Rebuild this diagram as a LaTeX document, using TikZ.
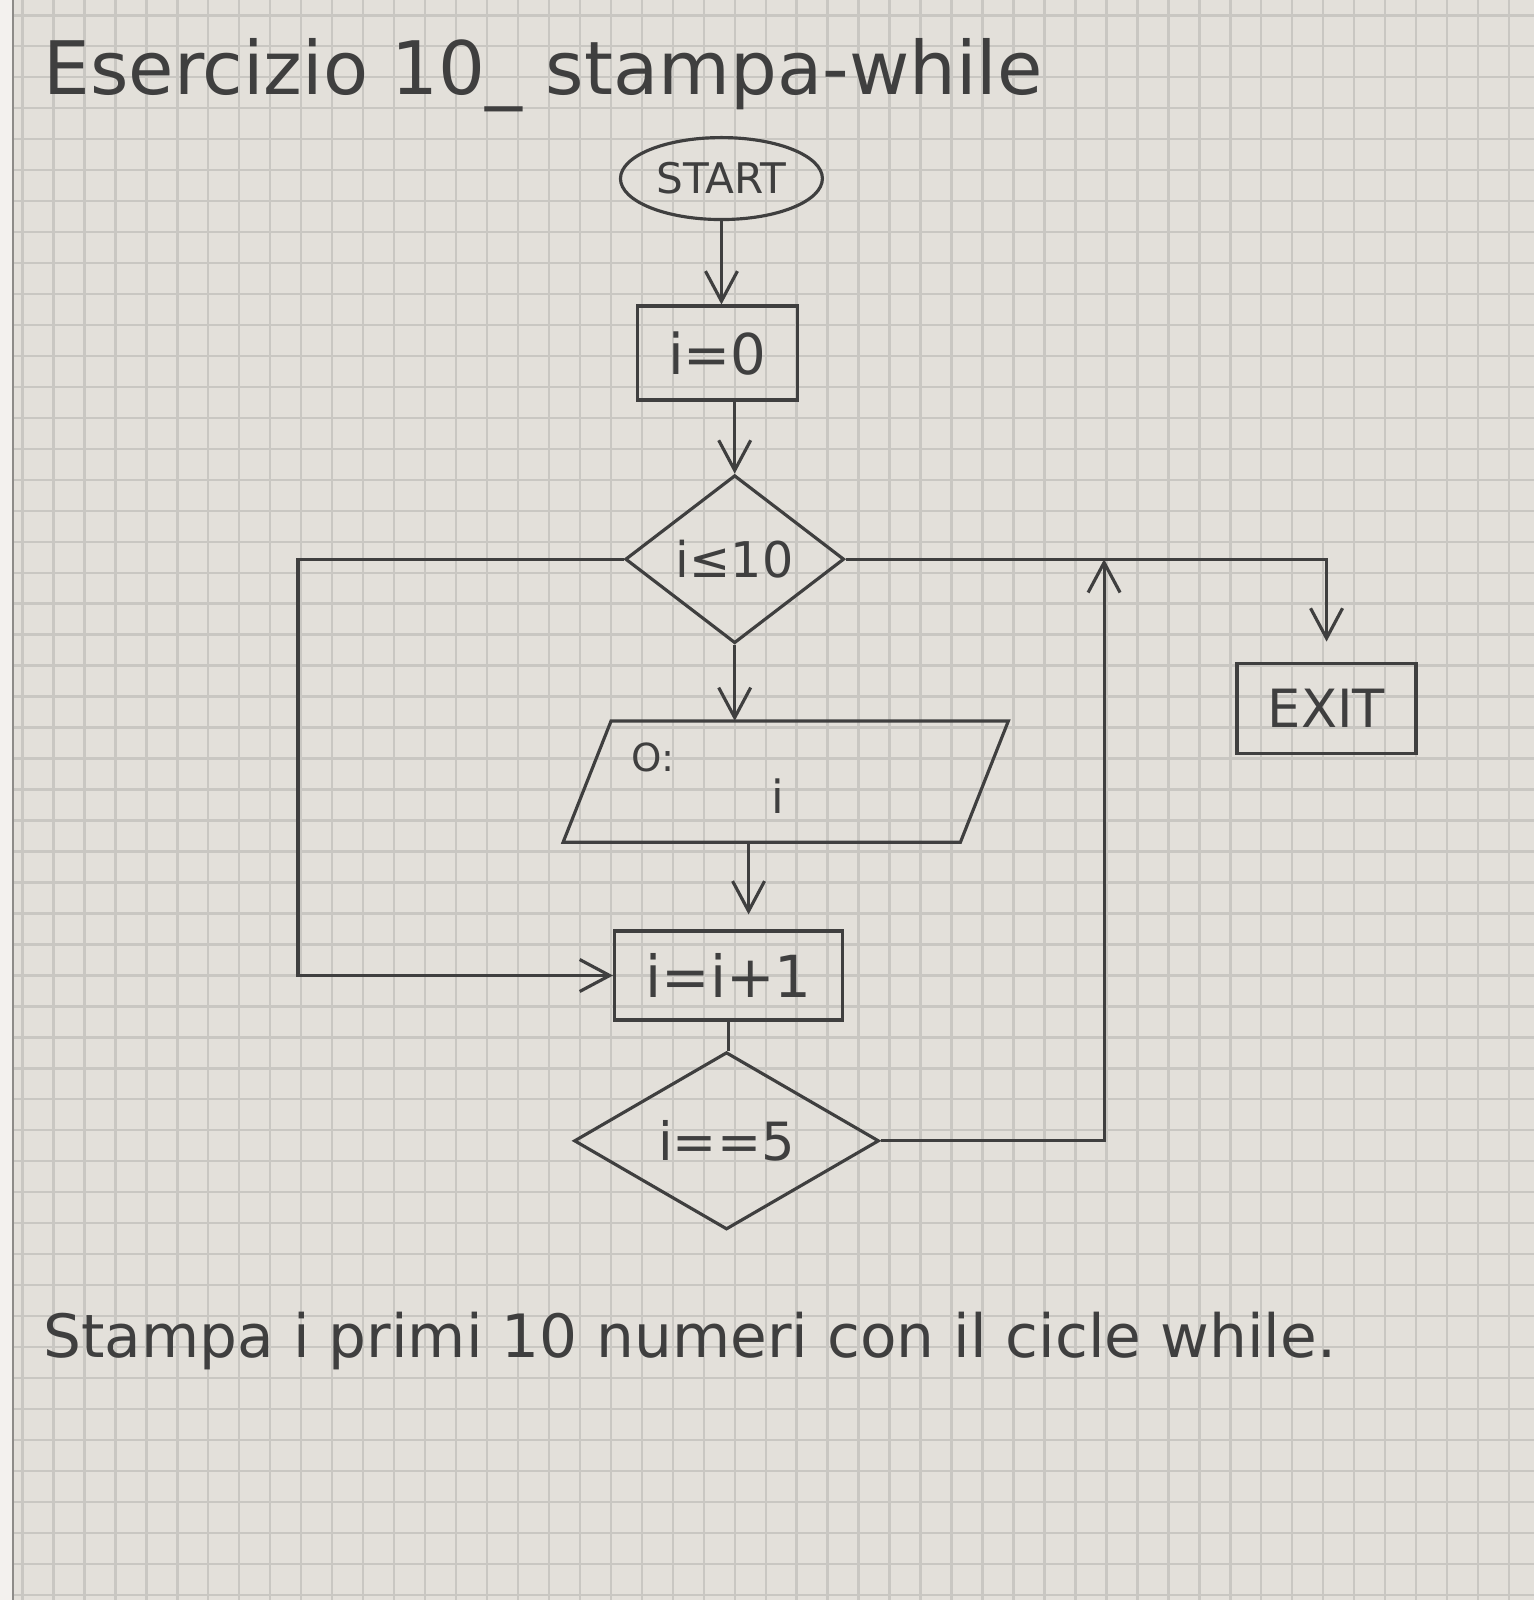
\documentclass[tikz,border=0pt]{standalone}
\usepackage{fontspec}
\setmainfont{DejaVu Sans}
\usetikzlibrary{shapes.geometric,arrows.meta}
\definecolor{paper}{HTML}{E3E0DA}
\definecolor{gridline}{HTML}{C9C7C2}
\definecolor{ink}{HTML}{3F3F3F}

\begin{document}
\begin{tikzpicture}[x=0.10206mm, y=-0.10206mm, >={Straight Barb[length=3mm,width=3.2mm]},
  block/.style={draw=ink, line width=0.9pt, text=ink, inner sep=0pt},
  terminal/.style={block, ellipse},
  process/.style={block, rectangle},
  decision/.style={block, diamond},
  io/.style={rectangle, inner sep=0pt},
  flow/.style={draw=ink, line width=0.9pt},
  note/.style={text=ink, inner sep=0pt, anchor=base west}]
  \useasboundingbox (0,0) rectangle (1503,1568);
  \fill[paper] (0,0) rectangle (1503,1568);
  \foreach \i in {0,...,49} \draw[gridline, line width=0.7pt] ({22+30.35*\i},0) -- ({22+30.35*\i},1568);
  \foreach \j in {0,...,51} \draw[gridline, line width=0.7pt] (0,{15+30.35*\j}) -- (1503,{15+30.35*\j});
  \fill[white!55!paper] (0,0) rectangle (13,1568);
  \draw[gridline!70!black, line width=0.5pt] (13,0) -- (13,1568);

  \node[note, font=\fontsize{21}{25}\selectfont] (title) at (42,93) {Esercizio 10\_ stampa-while};
  \node[terminal, minimum width=20.2mm, minimum height=8.2mm, font=\fontsize{12}{14}\selectfont] (start) at (707,175) {START};
  \node[process, minimum width=16mm, minimum height=9.4mm, font=\fontsize{16}{19}\selectfont] (init) at (703,346) {i=0};
  \node[decision, minimum width=21.9mm, minimum height=16.8mm, font=\fontsize{14}{17}\selectfont] (cond) at (720,548) {i≤10};
  \node[io, minimum width=44.4mm, minimum height=12mm] (out) at (770,766) {};
  \draw[flow] ([xshift=4.8mm]out.north west) -- (out.north east) -- ([xshift=-4.8mm]out.south east) -- (out.south west) -- cycle;
  \node[text=ink, font=\fontsize{11}{13}\selectfont] (outsym) at (640,742) {O:};
  \node[text=ink, font=\fontsize{13}{15}\selectfont] (outvar) at (762,780) {i};
  \node[process, minimum width=22.8mm, minimum height=8.9mm, font=\fontsize{16.5}{19}\selectfont] (inc) at (714,956) {i=i+1};
  \node[decision, minimum width=30.5mm, minimum height=14mm, font=\fontsize{15}{18}\selectfont] (check) at (712,1118) {i==5};
  \node[process, minimum width=17.9mm, minimum height=9mm, font=\fontsize{15}{18}\selectfont] (exit) at (1300,694) {EXIT};
  \node[note, font=\fontsize{17}{20}\selectfont] (task) at (42,1330) {Stampa i primi 10 numeri con il cicle while.};

  \coordinate (loopl) at (292,548);
  \coordinate (join) at (1082,548);

  \draw[flow,->] (start.south) -- (start.south |- init.north);
  \draw[flow,->] (init.south -| cond.north) -- (cond.north);
  \draw[flow,->] (cond.south) -- (cond.south |- out.north);
  \draw[flow,->, shorten >=1.5mm] ([xshift=2mm]inc.north |- out.south) -- ([xshift=2mm]inc.north);
  \draw[flow] (inc.south) -- (inc.south |- check.north);
  \draw[flow,->] (check.east) -| (join);
  \draw[flow,->, shorten >=2mm] (cond.east) -| (exit.north);
  \draw[flow,->] (cond.west) -- (cond.west -| loopl) |- (inc.west);
\end{tikzpicture}
\end{document}
